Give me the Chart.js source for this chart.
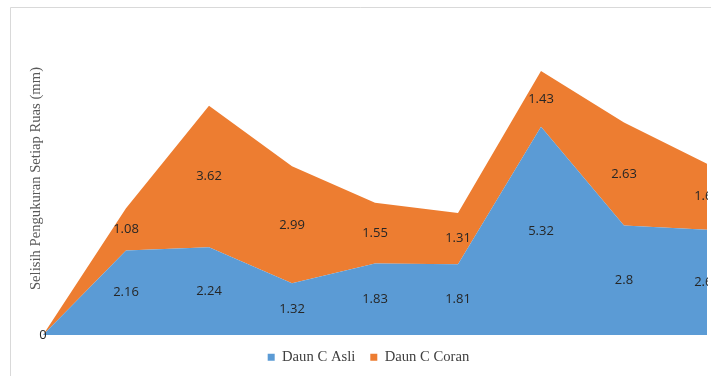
<!DOCTYPE html>
<html>
<head>
<meta charset="utf-8">
<script src="https://cdn.jsdelivr.net/npm/chart.js@4/dist/chart.umd.min.js"></script>
<style>
  html, body { margin: 0; padding: 0; background: #ffffff; }
  #wrap { width: 711px; height: 376px; position: relative; }
</style>
</head>
<body>
<div id="wrap"><canvas id="c" width="711" height="376"></canvas></div>
<script>
// Segment positions along the leaf
const categories = ['0', '1', '2', '3', '4', '5', '6', '7', '8'];
// Difference per segment (mm)
const asliValues  = [0, 2.16, 2.24, 1.32, 1.83, 1.81, 5.32, 2.8, 2.69];
const coranValues = [0, 1.08, 3.62, 2.99, 1.55, 1.31, 1.43, 2.63, 1.69];
const seriesNames = ['Daun C Asli', 'Daun C Coran'];
const yTitle = 'Selisih Pengukuran Setiap Ruas (mm)';

// Light frame around the chart
const framePlugin = {
  id: 'frame',
  beforeDraw(chart) {
    const ctx = chart.ctx;
    ctx.save();
    ctx.fillStyle = '#ffffff';
    ctx.fillRect(0, 0, chart.width, chart.height);
    ctx.strokeStyle = '#d9d9d9';
    ctx.lineWidth = 1;
    ctx.beginPath();
    ctx.moveTo(10.5, chart.height);
    ctx.lineTo(10.5, 7.5);
    ctx.lineTo(chart.width, 7.5);
    ctx.stroke();
    ctx.restore();
  }
};

// Value labels centred inside each stacked band
const bandLabels = {
  id: 'bandLabels',
  afterDatasetsDraw(chart) {
    const ctx = chart.ctx;
    const x = chart.scales.x, y = chart.scales.y;
    ctx.save();
    ctx.beginPath();
    ctx.rect(0, 0, 708, chart.height);
    ctx.clip();
    ctx.font = '13px "Open Sans"';
    ctx.fillStyle = '#262626';
    ctx.textAlign = 'center';
    ctx.textBaseline = 'middle';
    const a = chart.data.datasets[0].data;
    const b = chart.data.datasets[1].data;
    for (let i = 0; i < a.length; i++) {
      const px = x.getPixelForValue(i);
      ctx.fillText(String(a[i]), px, y.getPixelForValue(a[i] / 2));
      if (b[i] !== 0) {
        ctx.fillText(String(b[i]), px, y.getPixelForValue(a[i] + b[i] / 2));
      }
    }
    ctx.restore();
  }
};

new Chart(document.getElementById('c'), {
  type: 'line',
  data: {
    labels: categories,
    datasets: [
      {
        label: seriesNames[0],
        data: asliValues,
        backgroundColor: '#5b9bd5',
        borderColor: '#5b9bd5',
        borderWidth: 0,
        pointRadius: 0,
        tension: 0,
        fill: 'origin'
      },
      {
        label: seriesNames[1],
        data: coranValues,
        backgroundColor: '#ed7d31',
        borderColor: '#ed7d31',
        borderWidth: 0,
        pointRadius: 0,
        tension: 0,
        fill: '-1'
      }
    ]
  },
  options: {
    responsive: false,
    animation: false,
    layout: { padding: { left: 30, right: 4, top: 22, bottom: 1.33 } },
    scales: {
      x: {
        offset: false,
        grid: { display: false },
        border: { display: false },
        ticks: { display: false },
        afterFit(s) { s.height = 0; }
      },
      y: {
        stacked: true,
        min: 0,
        max: 8,
        grid: { display: false },
        border: { display: false },
        ticks: { display: false },
        title: {
          display: true,
          text: yTitle,
          color: '#595959',
          padding: { top: -3, bottom: 0 },
          font: { family: '"Liberation Serif"', size: 14.67 }
        },
        afterFit(s) { s.width = 13; }
      }
    },
    plugins: {
      legend: {
        position: 'bottom',
        labels: {
          boxWidth: 7,
          boxHeight: 7,
          padding: 15,
          color: '#404040',
          font: { family: '"Liberation Serif"', size: 14.67 }
        }
      },
      tooltip: { enabled: false }
    }
  },
  plugins: [framePlugin, bandLabels]
});
</script>
</body>
</html>
